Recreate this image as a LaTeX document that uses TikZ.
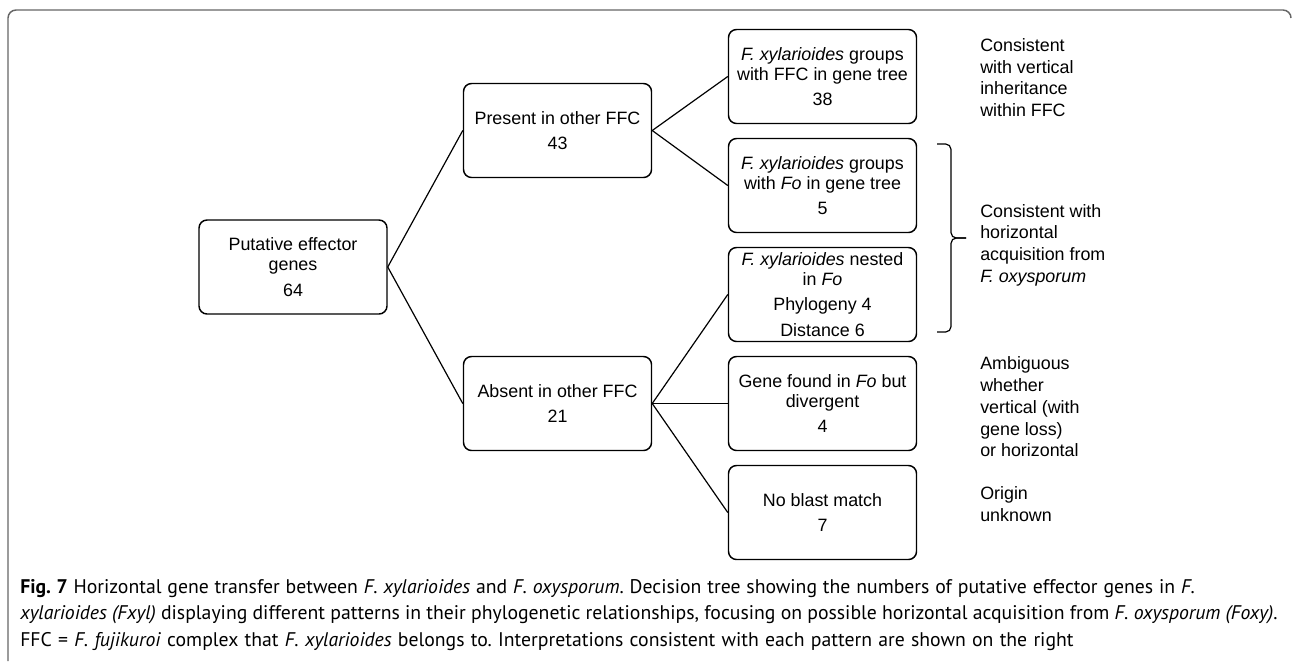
\documentclass[tikz,border=0pt]{standalone}
\usepackage{fontspec}
\setmainfont{Liberation Sans}
\newfontfamily\capfont{PT Sans}
\usetikzlibrary{positioning}

\begin{document}
\begin{tikzpicture}[x=0.75pt, y=-0.75pt,
    box/.style={draw, line width=1.1pt, rounded corners=6pt, minimum width=141pt, minimum height=70.5pt, align=center, inner sep=2pt, font=\fontsize{13.4}{15}\selectfont},
    note/.style={anchor=west, align=left, inner sep=0pt, font=\fontsize{13.4}{16.3}\selectfont},
    link/.style={line width=0.9pt}]
    \useasboundingbox (0,0) rectangle (1292,661);
    % frame
    \draw[black!60, line width=1.1pt, rounded corners=6pt] (1291,18) -- (1291,10) -- (8,10) -- (8,661);
    % tree
    \node[box] (root) at (293,267) {Putative effector\\genes\\[4pt]64};
    \node[box] (present) at (557.5,130.5) {Present in other FFC\\[4pt]43};
    \node[box] (absent) at (557.5,403.5) {Absent in other FFC\\[4pt]21};
    \node[box] (ffc) at (822.5,76.5) {\textit{F. xylarioides} groups\\with FFC in gene tree\\[4pt]38};
    \node[box] (fo) at (822.5,185.5) {\textit{F. xylarioides} groups\\with \textit{Fo} in gene tree\\[4pt]5};
    \node[box] (nested) at (822.5,294.5) {\textit{F. xylarioides} nested\\in \textit{Fo}\\[4pt]Phylogeny 4\\[4pt]Distance 6};
    \node[box] (divergent) at (822.5,403.5) {Gene found in \textit{Fo} but\\divergent\\[4pt]4};
    \node[box] (noblast) at (822.5,512.5) {No blast match\\[4pt]7};
    \draw[link] (root.east) -- (present.west);
    \draw[link] (root.east) -- (absent.west);
    \draw[link] (present.east) -- (ffc.west);
    \draw[link] (present.east) -- (fo.west);
    \draw[link] (absent.east) -- (nested.west);
    \draw[link] (absent.east) -- (divergent.west);
    \draw[link] (absent.east) -- (noblast.west);
    % brace
    \coordinate (bracetop) at (937,144);
    \coordinate (bracebot) at (937,332);
    \coordinate (bracemid) at (951,238);
    \coordinate (bracetip) at (966,238);
    \draw[link, rounded corners=4pt] (bracetop) -| (bracemid) -- (bracetip);
    \draw[link, rounded corners=4pt] (bracebot) -| (bracemid) -- (bracetip);
    % interpretations
    \node[note] (vert) at (980,77.5) {Consistent\\with vertical\\inheritance\\within FFC};
    \node[note] (horiz) at (980,245) {Consistent with\\horizontal\\acquisition from\\\textit{F. oxysporum}};
    \node[note] (ambig) at (980,407) {Ambiguous\\whether\\vertical (with\\gene loss)\\or horizontal};
    \node[note] (origin) at (980,504) {Origin\\unknown};
    % caption
    \node[anchor=north west, align=left, inner sep=0pt, font=\capfont\fontsize{14.8}{19.9}\selectfont\frenchspacing] (caption) at (20,579)
      {\makebox[881pt][s]{\textbf{Fig. 7} Horizontal gene transfer between \textit{F. xylarioides} and \textit{F. oxysporum}. Decision tree showing the numbers of putative effector genes in \textit{F.}}\\
       \makebox[943pt][s]{\textit{xylarioides (Fxyl)} displaying different patterns in their phylogenetic relationships, focusing on possible horizontal acquisition from \textit{F. oxysporum (Foxy)}.}\\
       \makebox[790pt][s]{FFC = \textit{F. fujikuroi} complex that \textit{F. xylarioides} belongs to. Interpretations consistent with each pattern are shown on the right}};
\end{tikzpicture}
\end{document}
